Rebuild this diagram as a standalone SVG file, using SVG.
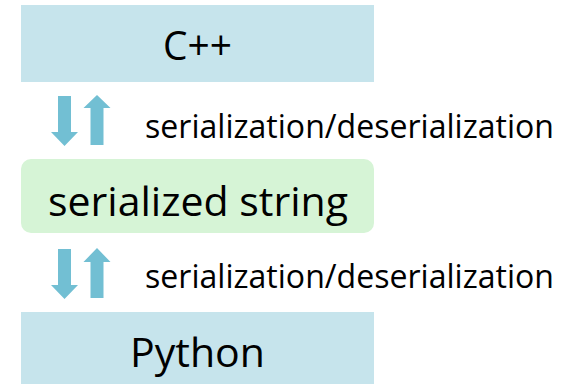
<svg xmlns="http://www.w3.org/2000/svg" width="568" height="384" viewBox="0 0 568 384">
<style>
.box{fill:#C6E4EC}
.mid{fill:#D6F4D6}
.arr{fill:#72BFD3}
.t{font-family:"Open Sans","Liberation Sans",sans-serif;fill:#000;text-anchor:middle;font-size:40px}
.lbl{font-family:"Open Sans","Liberation Sans",sans-serif;fill:#000;font-size:32px}
</style>
<rect width="568" height="384" fill="#fff"/>
<g id="cpp">
<rect class="box" x="21" y="5" width="353" height="77"/>
<text class="t" x="197.5" y="60" textLength="69" lengthAdjust="spacingAndGlyphs">C++</text>
</g>
<g id="serialized">
<rect class="mid" x="21" y="159" width="353" height="74" rx="10"/>
<text class="t" x="198" y="216" font-size="41" textLength="300" lengthAdjust="spacingAndGlyphs">serialized string</text>
</g>
<g id="python">
<rect class="box" x="21" y="312" width="353" height="72"/>
<text class="t" x="197.5" y="367" textLength="135" lengthAdjust="spacingAndGlyphs">Python</text>
</g>
<g id="connectors">
<polygon class="arr" points="58,96 71,96 71,132 78,132 64.5,146 51,132 58,132"/>
<polygon class="arr" points="97,95 110.5,108 103.5,108 103.5,145 90.5,145 90.5,108 83.5,108"/>
<text class="lbl" x="145" y="138" textLength="409" lengthAdjust="spacingAndGlyphs">serialization/deserialization</text>
<polygon class="arr" points="58,249 71,249 71,285 78,285 64.5,299 51,285 58,285"/>
<polygon class="arr" points="97,248 110.5,262 103.5,262 103.5,298 90.5,298 90.5,262 83.5,262"/>
<text class="lbl" x="145" y="288" textLength="409" lengthAdjust="spacingAndGlyphs">serialization/deserialization</text>
</g>
</svg>
